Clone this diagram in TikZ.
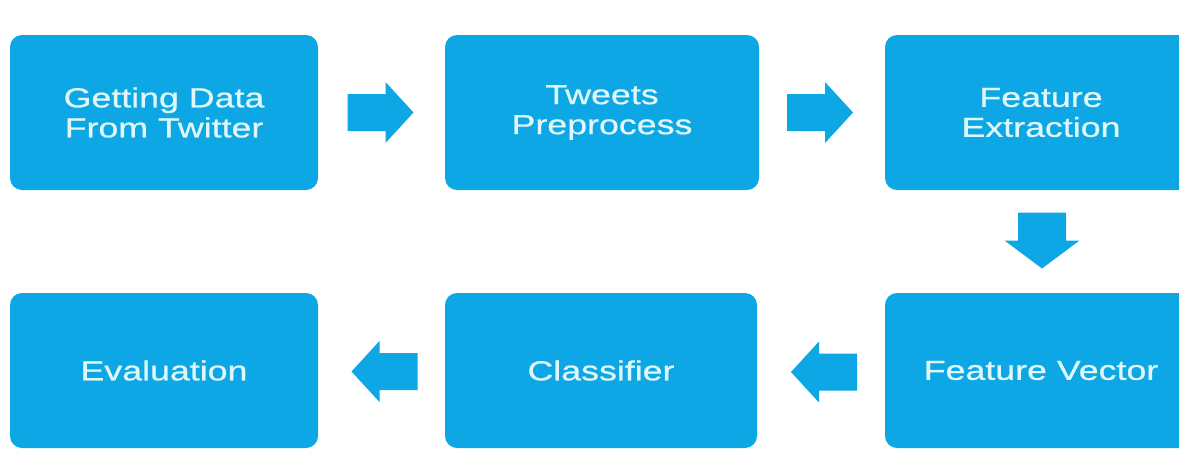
\documentclass[tikz,border=0pt]{standalone}
\usepackage{fontspec}
\newfontfamily\boxfont[FakeStretch=1.3,FakeBold=0.8]{Liberation Sans}
\usetikzlibrary{calc}
\definecolor{boxblue}{RGB}{12,167,228}
\definecolor{boxtext}{RGB}{224,247,250}
\tikzset{
  stagebox/.style={rectangle, rounded corners=12pt, fill=boxblue, draw=none,
    text=boxtext, align=center, minimum height=155pt, inner sep=0pt,
    font=\boxfont\fontsize{27.5}{30}\selectfont},
  arrowfill/.style={fill=boxblue, draw=none}
}
\newcommand\hblockarrow[2]{% #1 = centre coordinate, #2 = +1 right / -1 left
  \fill[arrowfill, shift={(#1)}, xscale=#2]
    (-33,-18.5) -- (5,-18.5) -- (5,-30.5) -- (33,0) -- (5,30.5) -- (5,18.5) -- (-33,18.5) -- cycle;}
\newcommand\vblockarrow[1]{% #1 = centre coordinate, pointing down
  \fill[arrowfill, shift={(#1)}]
    (-24,-28) -- (24,-28) -- (24,0) -- (37.5,0) -- (0,28) -- (-37.5,0) -- (-24,0) -- cycle;}
\begin{document}
\begin{tikzpicture}[x=1pt,y=-1pt]
\useasboundingbox (0,0) rectangle (1179,448);
\node[stagebox, minimum width=308pt] (get) at (164,112.5) {Getting Data\\From Twitter};
\node[stagebox, minimum width=314pt] (pre) at (602,112.5) {Tweets\\Preprocess};
\node[stagebox, minimum width=312pt] (ext) at (1041,112.5) {Feature\\Extraction};
\node[stagebox, minimum width=312pt] (vec) at (1041,370.5) {Feature Vector};
\node[stagebox, minimum width=312pt] (cls) at (601,370.5) {Classifier};
\node[stagebox, minimum width=308pt] (eva) at (164,370.5) {Evaluation};
\coordinate (m1) at ($(get.east)!0.5!(pre.west)+(-1,0)$);
\coordinate (m2) at ($(pre.east)!0.5!(ext.west)+(-2,0)$);
\coordinate (m3) at ($(ext.south)!0.5!(vec.north)+(1,-1)$);
\coordinate (m4) at ($(vec.west)!0.5!(cls.east)+(3,1.5)$);
\coordinate (m5) at ($(cls.west)!0.5!(eva.east)+(3,1)$);
\hblockarrow{m1}{1}
\hblockarrow{m2}{1}
\vblockarrow{m3}
\hblockarrow{m4}{-1}
\hblockarrow{m5}{-1}
\end{tikzpicture}
\end{document}
